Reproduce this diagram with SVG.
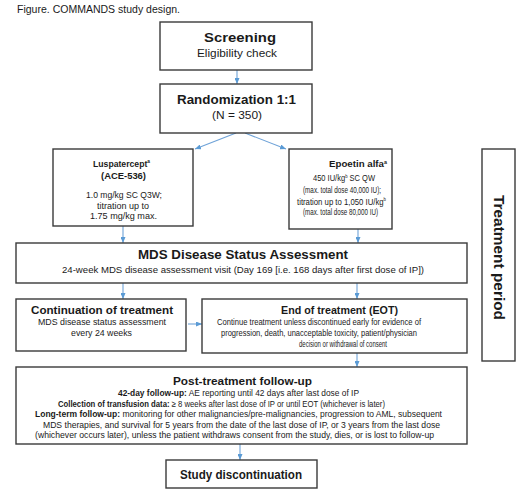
<svg xmlns="http://www.w3.org/2000/svg" width="520" height="491" viewBox="0 0 520 491">
<defs>
<marker id="ah" markerWidth="6" markerHeight="5" refX="6" refY="2.5" orient="auto" markerUnits="userSpaceOnUse">
<path d="M0,0 L6,2.5 L0,5 z" fill="#5b9bd5"/>
</marker>
<style>
.box{fill:#fff;stroke:#3a3a3a;stroke-width:1.4}
text{font-family:"Liberation Sans",Arial,sans-serif;fill:#1a1a1a}
.b{font-weight:bold}
.c{stroke:#6fa3d8;stroke-width:1.1;fill:none;marker-end:url(#ah)}
.sup{font-size:5px}
</style>
</defs>
<rect width="520" height="491" fill="#fff"/>
<text x="17" y="13" font-size="10.5" textLength="163" lengthAdjust="spacingAndGlyphs">Figure. COMMANDS study design.</text>

<g id="connectors">
<line class="c" x1="237" y1="70" x2="237" y2="84"/>
<line class="c" x1="236" y1="133" x2="195" y2="149"/>
<line class="c" x1="245" y1="133" x2="286" y2="149"/>
<line class="c" x1="123" y1="226" x2="123" y2="243"/>
<line class="c" x1="358" y1="229" x2="358" y2="243"/>
<line class="c" x1="123" y1="283" x2="123" y2="299"/>
<line class="c" x1="357" y1="283" x2="357" y2="299"/>
<line class="c" x1="188" y1="324" x2="202" y2="324"/>
<line class="c" x1="357" y1="353" x2="357" y2="367"/>
<line class="c" x1="240" y1="444" x2="240" y2="460"/>
</g>

<g id="screening">
<rect class="box" x="160" y="22" width="152" height="48"/>
<text class="b" x="204" y="42" font-size="13.5" textLength="72" lengthAdjust="spacingAndGlyphs">Screening</text>
<text x="197" y="57" font-size="11" textLength="80" lengthAdjust="spacingAndGlyphs">Eligibility check</text>
</g>

<g id="randomization">
<rect class="box" x="160" y="84" width="152" height="49"/>
<text class="b" x="177" y="104" font-size="13.5" textLength="119" lengthAdjust="spacingAndGlyphs">Randomization 1:1</text>
<text x="212" y="119" font-size="11" textLength="50" lengthAdjust="spacingAndGlyphs">(N = 350)</text>
</g>

<g id="luspatercept">
<rect class="box" x="53" y="149" width="140" height="77"/>
<text class="b" x="93" y="167" font-size="9" textLength="57" lengthAdjust="spacingAndGlyphs">Luspatercept<tspan class="sup" dy="-4">a</tspan></text>
<text class="b" x="101" y="179" font-size="9" textLength="45" lengthAdjust="spacingAndGlyphs">(ACE-536)</text>
<text x="86" y="198" font-size="9" textLength="76" lengthAdjust="spacingAndGlyphs">1.0 mg/kg SC Q3W;</text>
<text x="97" y="208.5" font-size="9" textLength="52" lengthAdjust="spacingAndGlyphs">titration up to</text>
<text x="90" y="219" font-size="9" textLength="67" lengthAdjust="spacingAndGlyphs">1.75 mg/kg max.</text>
</g>

<g id="epoetin">
<rect class="box" x="289" y="149" width="103" height="80"/>
<text class="b" x="329" y="167" font-size="9" textLength="58" lengthAdjust="spacingAndGlyphs">Epoetin alfa<tspan class="sup" dy="-3.5">a</tspan></text>
<text x="313" y="181" font-size="9" textLength="62" lengthAdjust="spacingAndGlyphs">450 IU/kg<tspan class="sup" dy="-3.5">b</tspan><tspan dy="3.5"> SC QW</tspan></text>
<text x="303" y="192.5" font-size="9" textLength="78" lengthAdjust="spacingAndGlyphs">(max. total dose 40,000 IU);</text>
<text x="297" y="204.5" font-size="9" textLength="89" lengthAdjust="spacingAndGlyphs">titration up to 1,050 IU/kg<tspan class="sup" dy="-3.5">b</tspan></text>
<text x="303" y="215" font-size="9" textLength="75" lengthAdjust="spacingAndGlyphs">(max. total dose 80,000 IU)</text>
</g>

<g id="mds">
<rect class="box" x="16" y="243" width="451" height="40"/>
<text class="b" x="138" y="259" font-size="12.5" textLength="210" lengthAdjust="spacingAndGlyphs">MDS Disease Status Assessment</text>
<text x="62" y="273" font-size="9" textLength="362" lengthAdjust="spacingAndGlyphs">24-week MDS disease assessment visit (Day 169 [i.e. 168 days after first dose of IP])</text>
</g>

<g id="continuation">
<rect class="box" x="16" y="299" width="170" height="52"/>
<text class="b" x="31" y="314" font-size="11.5" textLength="142" lengthAdjust="spacingAndGlyphs">Continuation of treatment</text>
<text x="38" y="325" font-size="9" textLength="128" lengthAdjust="spacingAndGlyphs">MDS disease status assessment</text>
<text x="71" y="336" font-size="9" textLength="61" lengthAdjust="spacingAndGlyphs">every 24 weeks</text>
</g>

<g id="eot">
<rect class="box" x="202" y="299" width="265" height="54"/>
<text class="b" x="281" y="314" font-size="11.5" textLength="117" lengthAdjust="spacingAndGlyphs">End of treatment (EOT)</text>
<text x="217" y="325" font-size="9" textLength="204" lengthAdjust="spacingAndGlyphs">Continue treatment unless discontinued early for evidence of</text>
<text x="221" y="336" font-size="9" textLength="196" lengthAdjust="spacingAndGlyphs">progression, death, unacceptable toxicity, patient/physician</text>
<text x="299" y="346.5" font-size="9" textLength="88" lengthAdjust="spacingAndGlyphs">decision or withdrawal of consent</text>
</g>

<g id="posttreatment">
<rect class="box" x="16" y="367" width="451" height="77"/>
<text class="b" x="173" y="385" font-size="11.5" textLength="139" lengthAdjust="spacingAndGlyphs">Post-treatment follow-up</text>
<text x="118" y="396" font-size="9" textLength="241" lengthAdjust="spacingAndGlyphs"><tspan class="b">42-day follow-up:</tspan> AE reporting until 42 days after last dose of IP</text>
<text x="58" y="406.5" font-size="9" textLength="327" lengthAdjust="spacingAndGlyphs"><tspan class="b">Collection of transfusion data:</tspan> ≥ 8 weeks after last dose of IP or until EOT (whichever is later)</text>
<text x="35" y="417" font-size="9" textLength="407" lengthAdjust="spacingAndGlyphs"><tspan class="b">Long-term follow-up:</tspan> monitoring for other malignancies/pre-malignancies, progression to AML, subsequent</text>
<text x="43" y="427.5" font-size="9" textLength="397" lengthAdjust="spacingAndGlyphs">MDS therapies, and survival for 5 years from the date of the last dose of IP, or 3 years from the last dose</text>
<text x="35" y="438" font-size="9" textLength="399" lengthAdjust="spacingAndGlyphs">(whichever occurs later), unless the patient withdraws consent from the study, dies, or is lost to follow-up</text>
</g>

<g id="discontinuation">
<rect class="box" x="166" y="460" width="151" height="28"/>
<text class="b" x="180" y="479" font-size="12" textLength="122" lengthAdjust="spacingAndGlyphs">Study discontinuation</text>
</g>

<g id="treatmentperiod">
<rect class="box" x="482" y="149" width="33" height="212"/>
<text class="b" transform="translate(494,257.5) rotate(90)" text-anchor="middle" font-size="15" textLength="125" lengthAdjust="spacingAndGlyphs">Treatment period</text>
</g>
</svg>
